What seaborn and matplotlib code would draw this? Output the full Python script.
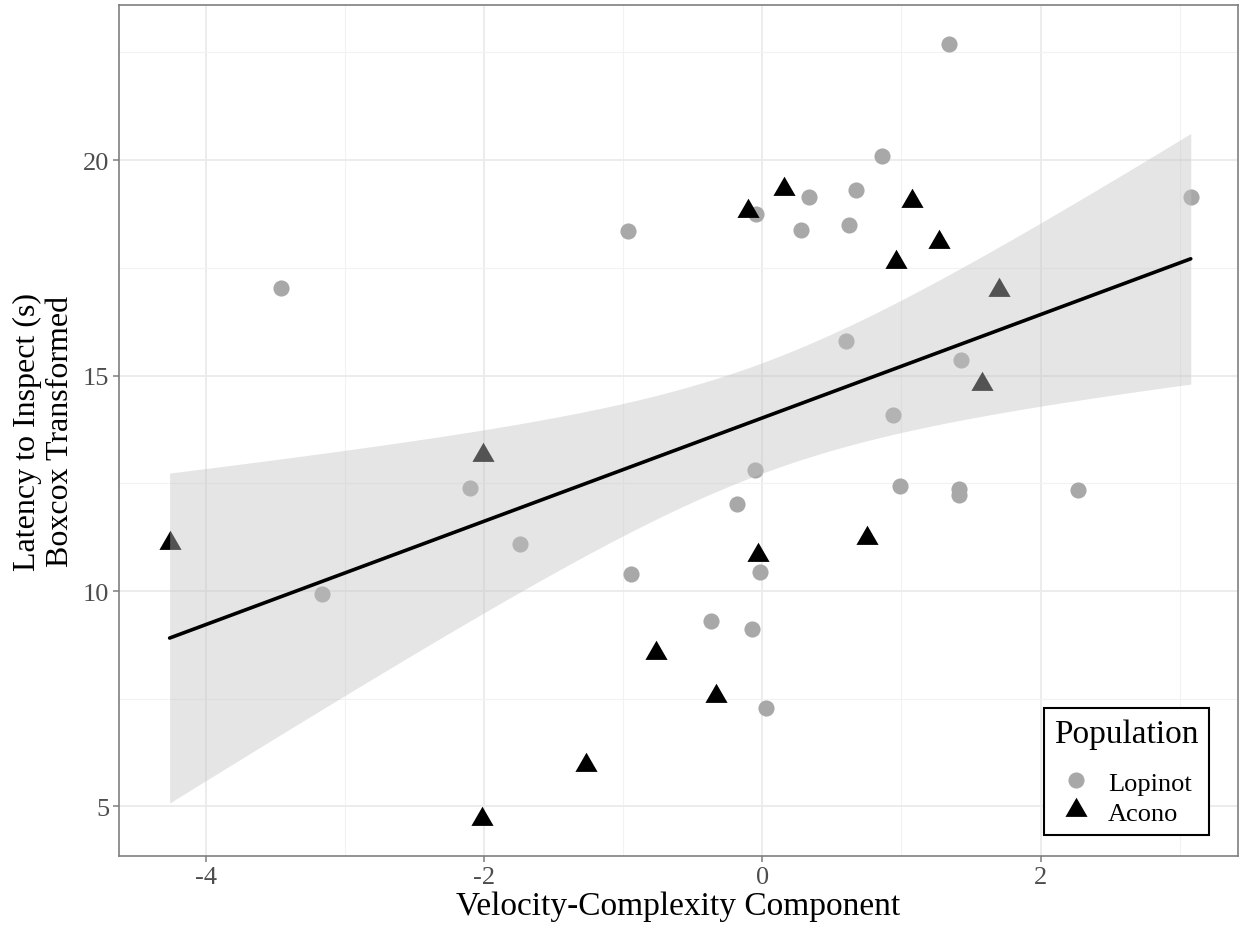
import numpy as np
import pandas as pd
import matplotlib
matplotlib.use("Agg")
import matplotlib.pyplot as plt
from matplotlib.lines import Line2D
import seaborn as sns

# Velocity-complexity scores and Box-Cox transformed inspection latencies
lopinot_x = [1.345, 0.863, 3.08, 0.676, 0.338, -0.043, -0.964, 0.626, 0.281, -3.46,
             0.604, 1.43, 0.942, -0.05, -2.10, 0.986, 1.417, 1.417, 2.27, -0.18,
             -1.74, -0.947, -0.017, -3.165, -0.367, -0.072, 0.029]
lopinot_y = [22.69, 20.09, 19.14, 19.30, 19.14, 18.75, 18.35, 18.49, 18.38, 17.03,
             15.80, 15.36, 14.08, 12.81, 12.39, 12.44, 12.36, 12.23, 12.35, 12.03,
             11.09, 10.39, 10.45, 9.93, 9.30, 9.11, 7.29]
acono_x = [0.158, -0.103, 1.078, 1.271, 0.961, 1.70, 1.58, -4.262, -2.017, -1.265,
           -2.01, 0.755, -0.035, -0.763, -0.331]
acono_y = [19.33, 18.81, 19.05, 18.11, 17.63, 16.98, 14.81, 11.12, 4.72, 5.96,
           13.16, 11.23, 10.84, 8.57, 7.57]
populations = ["Lopinot", "Acono"]

df = pd.DataFrame({
    "vc": lopinot_x + acono_x,
    "latency": lopinot_y + acono_y,
    "Population": ["Lopinot"] * len(lopinot_x) + ["Acono"] * len(acono_x),
})

sns.set_theme(style="whitegrid")
plt.rcParams["font.family"] = ["Liberation Serif", "DejaVu Serif"]
plt.rcParams["axes.unicode_minus"] = False

fig = plt.figure(figsize=(12.41, 9.28), dpi=100)
ax = fig.add_axes([0.0959, 0.0765, 0.9017, 0.917])

# triangle with its centroid on the data point
tri = [(0.0, 1.0), (-0.866, -0.5), (0.866, -0.5), (0.0, 1.0)]
point_color = {"Lopinot": "#A8A8A8", "Acono": "#000000"}

sns.scatterplot(data=df[df.Population == "Lopinot"], x="vc", y="latency",
                color=point_color["Lopinot"], marker="o", s=135, linewidth=0,
                ax=ax, zorder=3, legend=False)
sns.scatterplot(data=df[df.Population == "Acono"], x="vc", y="latency",
                color=point_color["Acono"], marker=tri, s=340, linewidth=0,
                ax=ax, zorder=3, legend=False)

# ordinary least squares fit with a 95% confidence band
x = df.vc.to_numpy()
y = df.latency.to_numpy()
n = len(x)
slope, intercept = np.polyfit(x, y, 1)
resid = y - (intercept + slope * x)
s_err = np.sqrt(np.sum(resid ** 2) / (n - 2))
t_crit = 2.0211  # t quantile 0.975, df = 40
grid = np.linspace(x.min(), x.max(), 80)
fit = intercept + slope * grid
se = s_err * np.sqrt(1 / n + (grid - x.mean()) ** 2 / np.sum((x - x.mean()) ** 2))
ax.fill_between(grid, fit - t_crit * se, fit + t_crit * se,
                color="#C3C3C3", alpha=0.43, linewidth=0, zorder=4)
sns.lineplot(x=grid, y=fit, color="black", linewidth=2.6, ax=ax, zorder=5)

ax.set_xlim(-4.626, 3.42)
ax.set_ylim(3.85, 23.6)
ax.set_xticks([-4, -2, 0, 2])
ax.set_yticks([5, 10, 15, 20])
ax.set_xticks([-3, -1, 1, 3], minor=True)
ax.set_yticks([7.5, 12.5, 17.5, 22.5], minor=True)
ax.grid(which="major", color="#EBEBEB", linewidth=1.3, zorder=0)
ax.grid(which="minor", color="#F2F2F2", linewidth=0.8, zorder=0)
ax.set_axisbelow(True)
ax.set_facecolor("white")
for sp in ax.spines.values():
    sp.set_color("#7F7F7F")
    sp.set_linewidth(1.2)
ax.tick_params(axis="both", which="major", length=4.5, width=1.1, color="#7F7F7F",
               labelsize=19, labelcolor="#4D4D4D", pad=2.5, left=True, bottom=True)
ax.tick_params(axis="both", which="minor", length=0)

ax.set_xlabel("Velocity-Complexity Component", fontsize=24, color="black", labelpad=2)
ax.set_ylabel("Latency to Inspect (s)\nBoxcox Transformed", fontsize=23,
              color="black", labelpad=6, linespacing=1.15)

handles = [
    Line2D([], [], linestyle="none", marker="o", markersize=11.6,
           markerfacecolor=point_color["Lopinot"], markeredgewidth=0),
    Line2D([], [], linestyle="none", marker=tri, markersize=18.4,
           markerfacecolor=point_color["Acono"], markeredgewidth=0),
]
leg = ax.legend(handles, populations, title="Population", loc="lower right",
                bbox_to_anchor=(0.974, 0.025), borderaxespad=0, fontsize=19,
                title_fontsize=24, frameon=True, fancybox=False, labelcolor="black",
                handletextpad=0.65, labelspacing=0.25, borderpad=0.38, handlelength=1.1)
# extra room between the legend title and its entries
leg._legend_box.sep = 16
leg.get_title().set_color("black")
leg.get_frame().set_edgecolor("black")
leg.get_frame().set_linewidth(1.5)
leg.get_frame().set_alpha(1)

fig.savefig("out.png", dpi=100)
